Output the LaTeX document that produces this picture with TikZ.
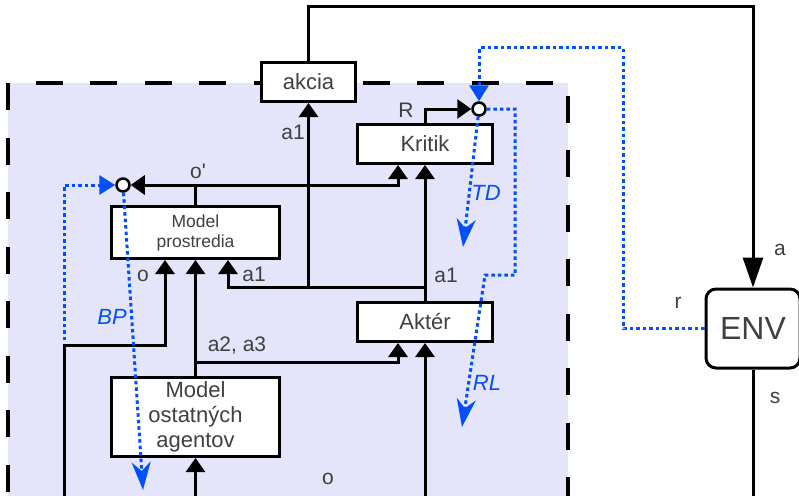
\documentclass[tikz,border=0pt]{standalone}
\usepackage{fontspec}
\setmainfont{Liberation Sans}
\usepackage{tikz}
\usetikzlibrary{positioning, arrows.meta, calc}

\definecolor{agentbg}{RGB}{228,228,250}
\definecolor{flowblue}{RGB}{0,80,255}
\definecolor{txtgray}{RGB}{64,64,64}

\begin{document}
\begin{tikzpicture}[
  x=1pt, y=-1pt,
  block/.style={
    rectangle,
    draw,
    line width=3pt,
    fill=white,
    align=center,
    inner sep=1pt,
    text=txtgray,
    font=\fontsize{22}{25}\selectfont,
  },
  envblock/.style={
    block,
    rounded corners=10pt,
    minimum width=94pt,
    minimum height=79pt,
    font=\fontsize{32}{36}\selectfont,
  },
  junction/.style={
    circle,
    draw,
    line width=2.5pt,
    fill=white,
    minimum size=13pt,
    inner sep=0pt,
  },
  plain/.style={draw, line width=3pt},
  flow/.style={plain, -{Triangle[length=14pt,width=19pt]}},
  learn/.style={draw=flowblue, line width=3pt, dash pattern=on 3.5pt off 3pt},
  learnin/.style={learn, -{Triangle[length=16pt,width=19pt]}},
  learnout/.style={learn, -{Stealth[length=28pt,width=19pt,inset=9pt]}},
  lbl/.style={anchor=base, inner sep=0pt, text=txtgray, font=\fontsize{21}{24}\selectfont},
  tag/.style={anchor=base, inner sep=0pt, text=flowblue, font=\fontsize{22}{25}\selectfont\itshape},
]
\useasboundingbox (0,0) rectangle (799,495);

% agent area
\fill[agentbg] (8,83) rectangle (568,500);
\draw[line width=3.5pt, dash pattern=on 27pt off 27.5pt, dash phase=27pt] (8,83) -- (568,83) -- (568,500);
\draw[line width=3.5pt, dash pattern=on 27pt off 27.5pt] (8,83) -- (8,500);

% blocks
\node[block, minimum width=94pt, minimum height=39pt] (akcia) at (308.5,82) {akcia};
\node[block, minimum width=135pt, minimum height=39pt] (kritik) at (425,144) {Kritik};
\node[block, minimum width=168pt, minimum height=52pt, font=\fontsize{17.5}{20}\selectfont] (mprost) at (195.5,232.5) {Model\\prostredia};
\node[block, minimum width=135pt, minimum height=39pt] (akter) at (425,322) {Aktér};
\node[block, minimum width=168pt, minimum height=79pt] (mostat) at (195.5,417) {Model\\ostatných\\agentov};
\node[envblock] (env) at (753,328.5) {ENV};
\node[junction] (ojoin) at (123,185) {};
\node[junction] (rjoin) at (479,109) {};

% helper points
\coordinate (topturn) at (308.5,7);
\coordinate (sout) at (753,500);
\coordinate (a1split) at (425,287);
\coordinate (a23split) at (195.5,362);
\coordinate (oturn) at (64,345);
\coordinate (obus) at (64,500);
\coordinate (oin1) at (195.5,500);
\coordinate (oin2) at (425,500);
\coordinate (bpstart) at (64,340);
\coordinate (bptip) at (143,490);
\coordinate (tdtip) at (463,247);
\coordinate (rltip) at (462,427);

% black connectors
\draw[plain, -{Triangle[length=30pt,width=20pt]}] (akcia.north) -- (topturn) -| (env.north);
\draw[plain] (env.south) -- (sout);
\draw[flow] (kritik.north) |- (rjoin.west);
\draw[flow] (akter.north) -- (kritik.south);
\draw[flow] (a1split) -| ([xshift=32.5pt]mprost.south);
\draw[flow] (a1split -| akcia.south) -- (akcia.south);
\draw[flow] (mprost.north) |- (ojoin.east);
\draw[flow] (mprost.north) |- ([xshift=-27pt]kritik.south |- ojoin) -- ([xshift=-27pt]kritik.south);
\draw[flow] (mostat.north) -- (mprost.south);
\draw[flow] (a23split) -| ([xshift=-27pt]akter.south);
\draw[flow] (obus) -- (oturn) -| ([xshift=-30.5pt]mprost.south);
\draw[flow] (oin1) -- (mostat.south);
\draw[flow] (oin2) -- (akter.south);

% blue learning signals
\draw[learnin] (env.west) -| (623,48) -| (rjoin.north);
\draw[learnin] (bpstart) |- (ojoin.west);
\draw[learnout] (ojoin) -- (bptip);
\draw[learnout] (rjoin) -- (tdtip);
\draw[learnout] (rjoin.east) -| (515,275) -- (485,275) -- (rltip);

% labels
\node[lbl] (la1top) at (293,139) {a1};
\node[lbl] (lR) at (406,117) {R};
\node[lbl] (lop) at (198,178) {o\textquotesingle};
\node[lbl] (la1right) at (446,282) {a1};
\node[lbl] (lo) at (143,281) {o};
\node[lbl] (la1low) at (254,281) {a1};
\node[lbl] (la23) at (237,351) {a2, a3};
\node[lbl] (lobot) at (328,484) {o};
\node[lbl] (la) at (780,255) {a};
\node[lbl] (lr) at (678,308) {r};
\node[lbl] (ls) at (775,403) {s};
\node[tag] (lTD) at (486,200) {TD};
\node[tag] (lBP) at (112,324) {BP};
\node[tag] (lRL) at (487,390) {RL};
\end{tikzpicture}
\end{document}
